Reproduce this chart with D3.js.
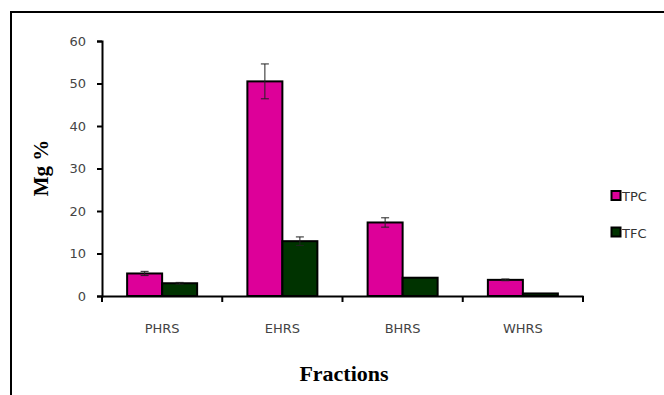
<!DOCTYPE html>
<html><head><meta charset="utf-8">
<script src="https://cdn.jsdelivr.net/npm/d3@7"></script>
<style>body{margin:0;background:#fff}svg{display:block}</style>
</head><body>
<svg id="c" width="664" height="395"></svg>
<script>
const categories = ["PHRS","EHRS","BHRS","WHRS"];
const seriesNames = ["TPC","TFC"];
const tpc = [5.3, 50.5, 17.3, 3.8];
const tfc = [3.0, 12.9, 4.3, 0.6];
const tpcErr = [0.5, 4.1, 1.1, 0.2];
const tfcErr = [0.2, 1.0, 0, 0];
const yTicks = [0,10,20,30,40,50,60];
const colors = ["#dd0099","#003300"];

const svg = d3.select("#c");
svg.append("rect").attr("x",11).attr("y",12).attr("width",700).attr("height",500)
  .attr("fill","none").attr("stroke","#000").attr("stroke-width",2);

const x0 = d3.scaleBand().domain(categories).range([102,583]).paddingInner(0).paddingOuter(0);
const x1 = d3.scaleBand().domain(seriesNames).range([0,70]);
const y = d3.scaleLinear().domain([0,60]).range([296,41]);

const data = categories.map((c,i)=>({c, vals:[{s:"TPC",v:tpc[i],e:tpcErr[i]},{s:"TFC",v:tfc[i],e:tfcErr[i]}]}));

const g = svg.append("g");
data.forEach(d=>{
  const gx = x0(d.c) + (x0.bandwidth()-70)/2;
  d.vals.forEach((v,j)=>{
    g.append("rect").attr("x",gx+x1(v.s)).attr("y",y(v.v)).attr("width",x1.bandwidth())
      .attr("height",y(0)-y(v.v)).attr("fill",colors[j]).attr("stroke","#000").attr("stroke-width",2);
  });
  d.vals.forEach((v,j)=>{
    if(v.e>0){
      const cx = gx+x1(v.s)+x1.bandwidth()/2;
      const e = g.append("g").attr("stroke","#222").attr("stroke-width",1);
      e.append("line").attr("x1",cx).attr("x2",cx).attr("y1",y(v.v+v.e)).attr("y2",y(v.v-v.e));
      e.append("line").attr("x1",cx-4).attr("x2",cx+4).attr("y1",y(v.v+v.e)).attr("y2",y(v.v+v.e));
      e.append("line").attr("x1",cx-4).attr("x2",cx+4).attr("y1",y(v.v-v.e)).attr("y2",y(v.v-v.e));
    }
  });
});

const yAxis = svg.append("g").attr("transform","translate(102,0)")
  .call(d3.axisLeft(y).tickValues(yTicks).tickSize(5).tickPadding(11));
yAxis.select(".domain").attr("stroke","#000").attr("stroke-width",2);
yAxis.selectAll(".tick line").attr("stroke","#000").attr("stroke-width",2);
yAxis.selectAll("text").attr("font-family","'DejaVu Sans', sans-serif").attr("font-size",13).attr("fill","#444");

const xAxis = svg.append("g").attr("transform","translate(0,296)")
  .call(d3.axisBottom(x0).tickSize(0).tickPadding(28));
xAxis.select(".domain").attr("stroke","#000").attr("stroke-width",2);
xAxis.selectAll("text").attr("font-family","'DejaVu Sans', sans-serif").attr("font-size",13).attr("fill","#444");
const bounds = [102, ...categories.map(c=>x0(c)+x0.bandwidth())];
svg.append("g").selectAll("line").data(bounds).join("line")
  .attr("x1",d=>d).attr("x2",d=>d).attr("y1",296).attr("y2",302).attr("stroke","#000").attr("stroke-width",2);

svg.append("text").attr("transform","translate(48,168) rotate(-90)").attr("text-anchor","middle")
  .attr("font-family","'Liberation Serif', 'Times New Roman', serif").attr("font-weight","bold").attr("font-size",21).text("Mg %");
svg.append("text").attr("x",344).attr("y",381).attr("text-anchor","middle")
  .attr("font-family","'Liberation Serif', 'Times New Roman', serif").attr("font-weight","bold").attr("font-size",22).text("Fractions");

const leg = svg.append("g");
seriesNames.forEach((s,i)=>{
  const ly = 196 + i*36.5;
  leg.append("rect").attr("x",611.5).attr("y",ly-5).attr("width",9).attr("height",9)
    .attr("fill",colors[i]).attr("stroke","#000").attr("stroke-width",2);
  leg.append("text").attr("x",622).attr("y",ly+5).attr("font-family","'DejaVu Sans', sans-serif")
    .attr("font-size",13).attr("fill","#333").text(s);
});
</script>
</body></html>
